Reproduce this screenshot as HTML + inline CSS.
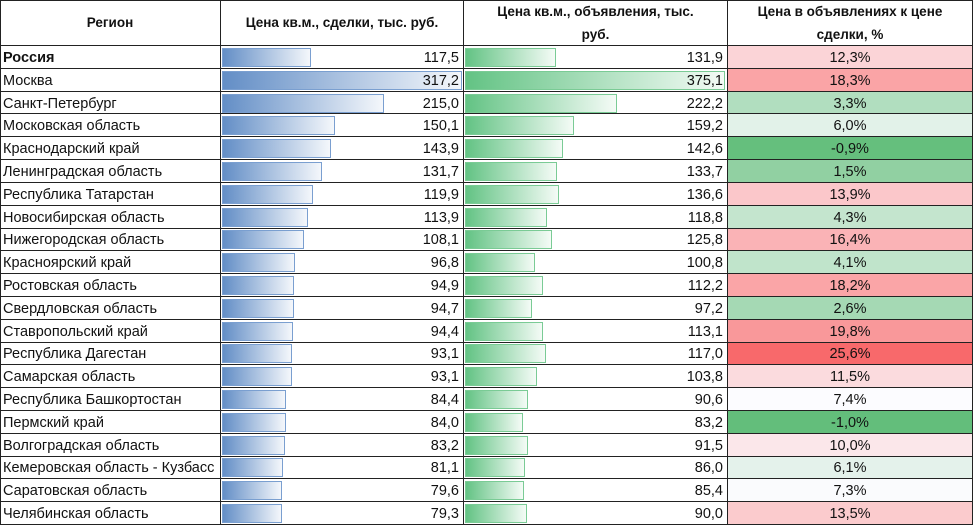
<!DOCTYPE html>
<html><head><meta charset="utf-8"><style>
body{margin:0;background:#fff;width:974px;height:527px;position:relative;overflow:hidden;font-family:"Liberation Sans",sans-serif;color:#111;}
.v{position:absolute;top:0;height:525px;width:1px;background:#222;}
.h{position:absolute;left:0;width:973px;height:1px;background:#222;}
.hd{position:absolute;top:0;height:45px;display:flex;align-items:center;justify-content:center;text-align:center;font-weight:bold;font-size:13.5px;line-height:23px;}
.r{position:absolute;left:0;width:973px;height:22.8px;font-size:14.5px;}
.r div{position:absolute;top:1px;height:22px;line-height:22px;white-space:nowrap;overflow:hidden;}
.r div.c4{top:0;height:23px;line-height:24px;}
.c1{left:3px;width:217px;}
.b1{left:222px;top:2px!important;height:19px!important;box-sizing:border-box;border:1px solid #7a9fd0;background:linear-gradient(to right,#638ec6,#f4f7fb);}
.b2{left:465px;top:2px!important;height:19px!important;box-sizing:border-box;border:1px solid #7acb95;background:linear-gradient(to right,#63c384,#f4fbf6);}
.v1{left:221px;width:238px;text-align:right;}
.v2{left:464px;width:259px;text-align:right;}
.c4{left:728px;width:244px;text-align:center;}
</style></head><body>
<div class="hd" style="left:0;width:220px">Регион</div>
<div class="hd" style="left:221px;width:242px">Цена кв.м., сделки, тыс. руб.</div>
<div class="hd" style="left:464px;width:263px">Цена кв.м., объявления, тыс.<br>руб.</div>
<div class="hd" style="left:728px;width:244px">Цена в объявлениях к цене<br>сделки, %</div>

<div class="r" style="top:46px"><div class="c1" style="font-weight:bold">Россия</div><div class="b1" style="width:89px"></div><div class="v1">117,5</div><div class="b2" style="width:91px"></div><div class="v2">131,9</div><div class="c4" style="background:rgb(251,212,215)">12,3%</div></div>
<div class="r" style="top:68.8px"><div class="c1">Москва</div><div class="b1" style="width:240px"></div><div class="v1">317,2</div><div class="b2" style="width:260px"></div><div class="v2">375,1</div><div class="c4" style="background:rgb(250,164,166)">18,3%</div></div>
<div class="r" style="top:91.6px"><div class="c1">Санкт-Петербург</div><div class="b1" style="width:162px"></div><div class="v1">215,0</div><div class="b2" style="width:152px"></div><div class="v2">222,2</div><div class="c4" style="background:rgb(177,222,191)">3,3%</div></div>
<div class="r" style="top:114.4px"><div class="c1">Московская область</div><div class="b1" style="width:113px"></div><div class="v1">150,1</div><div class="b2" style="width:109px"></div><div class="v2">159,2</div><div class="c4" style="background:rgb(226,242,233)">6,0%</div></div>
<div class="r" style="top:137.2px"><div class="c1">Краснодарский край</div><div class="b1" style="width:109px"></div><div class="v1">143,9</div><div class="b2" style="width:98px"></div><div class="v2">142,6</div><div class="c4" style="background:rgb(101,191,125)">-0,9%</div></div>
<div class="r" style="top:160px"><div class="c1">Ленинградская область</div><div class="b1" style="width:100px"></div><div class="v1">131,7</div><div class="b2" style="width:92px"></div><div class="v2">133,7</div><div class="c4" style="background:rgb(145,208,162)">1,5%</div></div>
<div class="r" style="top:182.8px"><div class="c1">Республика Татарстан</div><div class="b1" style="width:91px"></div><div class="v1">119,9</div><div class="b2" style="width:94px"></div><div class="v2">136,6</div><div class="c4" style="background:rgb(251,199,202)">13,9%</div></div>
<div class="r" style="top:205.6px"><div class="c1">Новосибирская область</div><div class="b1" style="width:86px"></div><div class="v1">113,9</div><div class="b2" style="width:82px"></div><div class="v2">118,8</div><div class="c4" style="background:rgb(196,229,206)">4,3%</div></div>
<div class="r" style="top:228.4px"><div class="c1">Нижегородская область</div><div class="b1" style="width:82px"></div><div class="v1">108,1</div><div class="b2" style="width:87px"></div><div class="v2">125,8</div><div class="c4" style="background:rgb(250,179,182)">16,4%</div></div>
<div class="r" style="top:251.2px"><div class="c1">Красноярский край</div><div class="b1" style="width:73px"></div><div class="v1">96,8</div><div class="b2" style="width:70px"></div><div class="v2">100,8</div><div class="c4" style="background:rgb(192,228,203)">4,1%</div></div>
<div class="r" style="top:274px"><div class="c1">Ростовская область</div><div class="b1" style="width:72px"></div><div class="v1">94,9</div><div class="b2" style="width:78px"></div><div class="v2">112,2</div><div class="c4" style="background:rgb(250,165,167)">18,2%</div></div>
<div class="r" style="top:296.8px"><div class="c1">Свердловская область</div><div class="b1" style="width:72px"></div><div class="v1">94,7</div><div class="b2" style="width:67px"></div><div class="v2">97,2</div><div class="c4" style="background:rgb(165,217,180)">2,6%</div></div>
<div class="r" style="top:319.6px"><div class="c1">Ставропольский край</div><div class="b1" style="width:71px"></div><div class="v1">94,4</div><div class="b2" style="width:78px"></div><div class="v2">113,1</div><div class="c4" style="background:rgb(249,152,154)">19,8%</div></div>
<div class="r" style="top:342.4px"><div class="c1">Республика Дагестан</div><div class="b1" style="width:70px"></div><div class="v1">93,1</div><div class="b2" style="width:81px"></div><div class="v2">117,0</div><div class="c4" style="background:rgb(248,105,107)">25,6%</div></div>
<div class="r" style="top:365.2px"><div class="c1">Самарская область</div><div class="b1" style="width:70px"></div><div class="v1">93,1</div><div class="b2" style="width:72px"></div><div class="v2">103,8</div><div class="c4" style="background:rgb(251,219,222)">11,5%</div></div>
<div class="r" style="top:388px"><div class="c1">Республика Башкортостан</div><div class="b1" style="width:64px"></div><div class="v1">84,4</div><div class="b2" style="width:63px"></div><div class="v2">90,6</div><div class="c4" style="background:rgb(252,252,255)">7,4%</div></div>
<div class="r" style="top:410.8px"><div class="c1">Пермский край</div><div class="b1" style="width:64px"></div><div class="v1">84,0</div><div class="b2" style="width:58px"></div><div class="v2">83,2</div><div class="c4" style="background:rgb(99,190,123)">-1,0%</div></div>
<div class="r" style="top:433.6px"><div class="c1">Волгоградская область</div><div class="b1" style="width:63px"></div><div class="v1">83,2</div><div class="b2" style="width:63px"></div><div class="v2">91,5</div><div class="c4" style="background:rgb(251,231,234)">10,0%</div></div>
<div class="r" style="top:456.4px"><div class="c1">Кемеровская область - Кузбасс</div><div class="b1" style="width:61px"></div><div class="v1">81,1</div><div class="b2" style="width:60px"></div><div class="v2">86,0</div><div class="c4" style="background:rgb(228,242,235)">6,1%</div></div>
<div class="r" style="top:479.2px"><div class="c1">Саратовская область</div><div class="b1" style="width:60px"></div><div class="v1">79,6</div><div class="b2" style="width:59px"></div><div class="v2">85,4</div><div class="c4" style="background:rgb(250,251,253)">7,3%</div></div>
<div class="r" style="top:502px"><div class="c1">Челябинская область</div><div class="b1" style="width:60px"></div><div class="v1">79,3</div><div class="b2" style="width:62px"></div><div class="v2">90,0</div><div class="c4" style="background:rgb(251,203,205)">13,5%</div></div>

<div class="h" style="top:0"></div>
<div class="h" style="top:45px"></div>
<div class="h" style="top:68px"></div>
<div class="h" style="top:91px"></div>
<div class="h" style="top:113px"></div>
<div class="h" style="top:136px"></div>
<div class="h" style="top:159px"></div>
<div class="h" style="top:182px"></div>
<div class="h" style="top:205px"></div>
<div class="h" style="top:228px"></div>
<div class="h" style="top:250px"></div>
<div class="h" style="top:273px"></div>
<div class="h" style="top:296px"></div>
<div class="h" style="top:319px"></div>
<div class="h" style="top:342px"></div>
<div class="h" style="top:364px"></div>
<div class="h" style="top:387px"></div>
<div class="h" style="top:410px"></div>
<div class="h" style="top:433px"></div>
<div class="h" style="top:456px"></div>
<div class="h" style="top:478px"></div>
<div class="h" style="top:501px"></div>
<div class="h" style="top:524px"></div>
<div class="v" style="left:0"></div>
<div class="v" style="left:220px"></div>
<div class="v" style="left:463px"></div>
<div class="v" style="left:727px"></div>
<div class="v" style="left:972px"></div>
</body></html>
